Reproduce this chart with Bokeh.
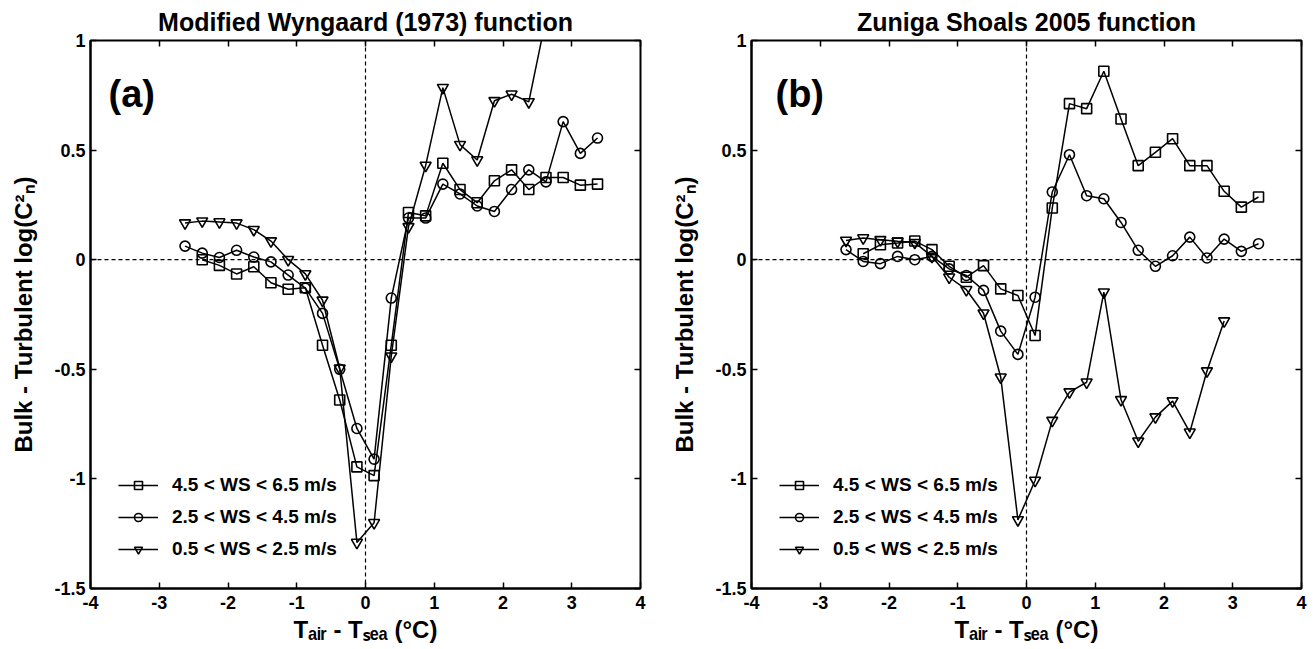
from bokeh.plotting import figure
from bokeh.models import (LinearAxis, Span, Label, Legend, LegendItem,
                          FixedTicker, Range1d, Title)
from bokeh.layouts import row
from bokeh.embed import file_html
from bokeh.resources import INLINE

FONT = "Liberation Sans"

# ---------------- data ----------------
x_ticks = [-4, -3, -2, -1, 0, 1, 2, 3, 4]
x_tick_labels = ["-4", "-3", "-2", "-1", "0", "1", "2", "3", "4"]
y_ticks = [-1.5, -1, -0.5, 0, 0.5, 1]
y_tick_labels = ["-1.5", "-1", "-0.5", "0", "0.5", "1"]

series_labels = ["4.5 < WS < 6.5 m/s", "2.5 < WS < 4.5 m/s", "0.5 < WS < 2.5 m/s"]
titles = ["Modified Wyngaard (1973) function", "Zuniga Shoals 2005 function"]
panel_letters = ["(a)", "(b)"]
x_label = "T\u2090\u1d62\u1d63 - T\u209b\u2091\u2090 (\u00b0C)"
y_label = "Bulk - Turbulent log(C\u00b2\u2099)"

# Panel (a) - Modified Wyngaard (1973)
a_sq_x = [-2.375, -2.125, -1.875, -1.625, -1.375, -1.125, -0.875, -0.625, -0.375, -0.125,
          0.125, 0.375, 0.625, 0.875, 1.125, 1.375, 1.625, 1.875, 2.125, 2.375,
          2.625, 2.875, 3.125, 3.375]
a_sq_y = [0.0, -0.026, -0.065, -0.032, -0.105, -0.135, -0.128, -0.39, -0.64, -0.945,
          -0.985, -0.39, 0.215, 0.2, 0.44, 0.32, 0.26, 0.36, 0.41, 0.32,
          0.375, 0.375, 0.34, 0.345]

a_ci_x = [-2.625, -2.375, -2.125, -1.875, -1.625, -1.375, -1.125, -0.875, -0.625, -0.375,
          -0.125, 0.125, 0.375, 0.625, 0.875, 1.125, 1.375, 1.625, 1.875, 2.125,
          2.375, 2.625, 2.875, 3.125, 3.375]
a_ci_y = [0.062, 0.03, 0.01, 0.043, 0.012, -0.01, -0.07, -0.13, -0.245, -0.5,
          -0.77, -0.91, -0.175, 0.19, 0.19, 0.345, 0.30, 0.245, 0.22, 0.32,
          0.41, 0.355, 0.63, 0.485, 0.555]

a_tr_x = [-2.625, -2.375, -2.125, -1.875, -1.625, -1.375, -1.125, -0.875, -0.625, -0.375,
          -0.125, 0.125, 0.375, 0.625, 0.875, 1.125, 1.375, 1.625, 1.875, 2.125,
          2.375, 2.625]
a_tr_y = [0.167, 0.176, 0.172, 0.167, 0.137, 0.085, 0.0, -0.065, -0.185, -0.495,
          -1.29, -1.2, -0.44, 0.15, 0.43, 0.785, 0.525, 0.455, 0.725, 0.755,
          0.72, 1.1]

# Panel (b) - Zuniga Shoals 2005
b_sq_x = [-2.375, -2.125, -1.875, -1.625, -1.375, -1.125, -0.875, -0.625, -0.375, -0.125,
          0.125, 0.375, 0.625, 0.875, 1.125, 1.375, 1.625, 1.875, 2.125, 2.375,
          2.625, 2.875, 3.125, 3.375]
b_sq_y = [0.027, 0.068, 0.076, 0.085, 0.046, -0.03, -0.08, -0.027, -0.133, -0.163,
          -0.346, 0.236, 0.712, 0.689, 0.86, 0.642, 0.429, 0.49, 0.552, 0.429,
          0.429, 0.312, 0.24, 0.286]

b_ci_x = [-2.625, -2.375, -2.125, -1.875, -1.625, -1.375, -1.125, -0.875, -0.625, -0.375,
          -0.125, 0.125, 0.375, 0.625, 0.875, 1.125, 1.375, 1.625, 1.875, 2.125,
          2.375, 2.625, 2.875, 3.125, 3.375]
b_ci_y = [0.046, -0.008, -0.018, 0.015, 0.0, 0.015, -0.042, -0.072, -0.14, -0.326,
          -0.432, -0.171, 0.309, 0.479, 0.292, 0.278, 0.17, 0.043, -0.03, 0.018,
          0.103, 0.008, 0.094, 0.038, 0.073]

b_tr_x = [-2.625, -2.375, -2.125, -1.875, -1.625, -1.375, -1.125, -0.875, -0.625, -0.375,
          -0.125, 0.125, 0.375, 0.625, 0.875, 1.125, 1.375, 1.625, 1.875, 2.125,
          2.375, 2.625, 2.875]
b_tr_y = [0.088, 0.099, 0.091, 0.084, 0.078, 0.015, -0.08, -0.137, -0.244, -0.536,
          -1.187, -1.007, -0.734, -0.604, -0.559, -0.148, -0.639, -0.828, -0.718, -0.645,
          -0.787, -0.508, -0.28]

FW, FH = 550, 548


def style_axis(ax, ticks, labels, standoff):
    ax.ticker = FixedTicker(ticks=ticks)
    ax.major_label_overrides = {t: l for t, l in zip(ticks, labels)}
    ax.major_label_text_font = FONT
    ax.major_label_text_font_size = "18px"
    ax.major_label_text_font_style = "bold"
    ax.major_label_text_color = "black"
    ax.major_label_standoff = standoff
    ax.major_tick_in = 6
    ax.major_tick_out = 0
    ax.major_tick_line_width = 1.5
    ax.major_tick_line_color = "black"
    ax.minor_tick_line_color = None
    ax.axis_line_width = 2
    ax.axis_line_color = "black"
    ax.axis_label_text_font = FONT
    ax.axis_label_text_font_size = "24px"
    ax.axis_label_text_font_style = "bold"
    ax.axis_label_text_color = "black"


def blank_axis(ticks):
    return LinearAxis(ticker=FixedTicker(ticks=ticks),
                      major_label_text_font_size="0px", major_label_text_color=None,
                      major_label_standoff=0,
                      major_tick_in=6, major_tick_out=0, major_tick_line_width=1.5,
                      major_tick_line_color="black",
                      minor_tick_line_color=None, axis_line_color=None)


def panel(title, letter, letter_x, sq, ci, tr, b_left, b_right):
    p = figure(frame_width=FW, frame_height=FH, title=None,
               x_range=Range1d(-4, 4), y_range=Range1d(-1.5, 1),
               output_backend="svg", toolbar_location=None,
               min_border_left=b_left, min_border_right=b_right,
               min_border_top=40, min_border_bottom=61,
               background_fill_color="white", border_fill_color="white")
    p.outline_line_color = "black"
    p.outline_line_width = 2
    p.xgrid.visible = False
    p.ygrid.visible = False
    style_axis(p.xaxis[0], x_ticks, x_tick_labels, 7)
    style_axis(p.yaxis[0], y_ticks, y_tick_labels, 5)
    p.xaxis.axis_label = x_label
    p.xaxis.axis_label_standoff = 4
    p.yaxis.axis_label = y_label
    p.yaxis.axis_label_standoff = 14
    p.add_layout(blank_axis(x_ticks), "above")
    p.add_layout(blank_axis(y_ticks), "right")
    p.add_layout(Title(text=title, align="center", text_font=FONT,
                       text_font_size="25px", text_font_style="bold",
                       text_color="black", standoff=9), "above")

    p.add_layout(Span(location=0, dimension="width", line_color="black",
                      line_width=1.2, line_dash="4 3"))
    p.add_layout(Span(location=0, dimension="height", line_color="black",
                      line_width=1.2, line_dash="4 3"))

    items = []
    for (xs, ys), marker, size, lab in ((sq, "square", 10, series_labels[0]),
                                        (ci, "circle", 10, series_labels[1]),
                                        (tr, "inverted_triangle", 11, series_labels[2])):
        rl = p.line(xs, ys, line_color="black", line_width=1.5)
        rs = p.scatter(xs, ys, marker=marker, size=size, fill_color=None,
                       line_color="black", line_width=1.6)
        items.append(LegendItem(label=lab, renderers=[rl, rs]))

    leg = Legend(items=items, location=(28, 28), orientation="vertical",
                 padding=0, margin=0, spacing=10, glyph_width=40, glyph_height=20,
                 label_height=20, label_standoff=14,
                 label_text_font=FONT, label_text_font_size="19px",
                 label_text_font_style="bold", label_text_color="black",
                 background_fill_alpha=0, border_line_color=None)
    p.add_layout(leg)

    p.add_layout(Label(x=letter_x, y=495, x_units="screen", y_units="screen",
                       text=letter, text_font=FONT, text_font_size="38px",
                       text_font_style="bold", text_color="black",
                       text_baseline="alphabetic"))
    return p


p1 = panel(titles[0], panel_letters[0], 18,
           (a_sq_x, a_sq_y), (a_ci_x, a_ci_y), (a_tr_x, a_tr_y), 90, 18)
p2 = panel(titles[1], panel_letters[1], 24,
           (b_sq_x, b_sq_y), (b_ci_x, b_ci_y), (b_tr_x, b_tr_y), 93, 15)

layout = row(p1, p2)
open("out.html", "w").write(file_html(layout, INLINE))
